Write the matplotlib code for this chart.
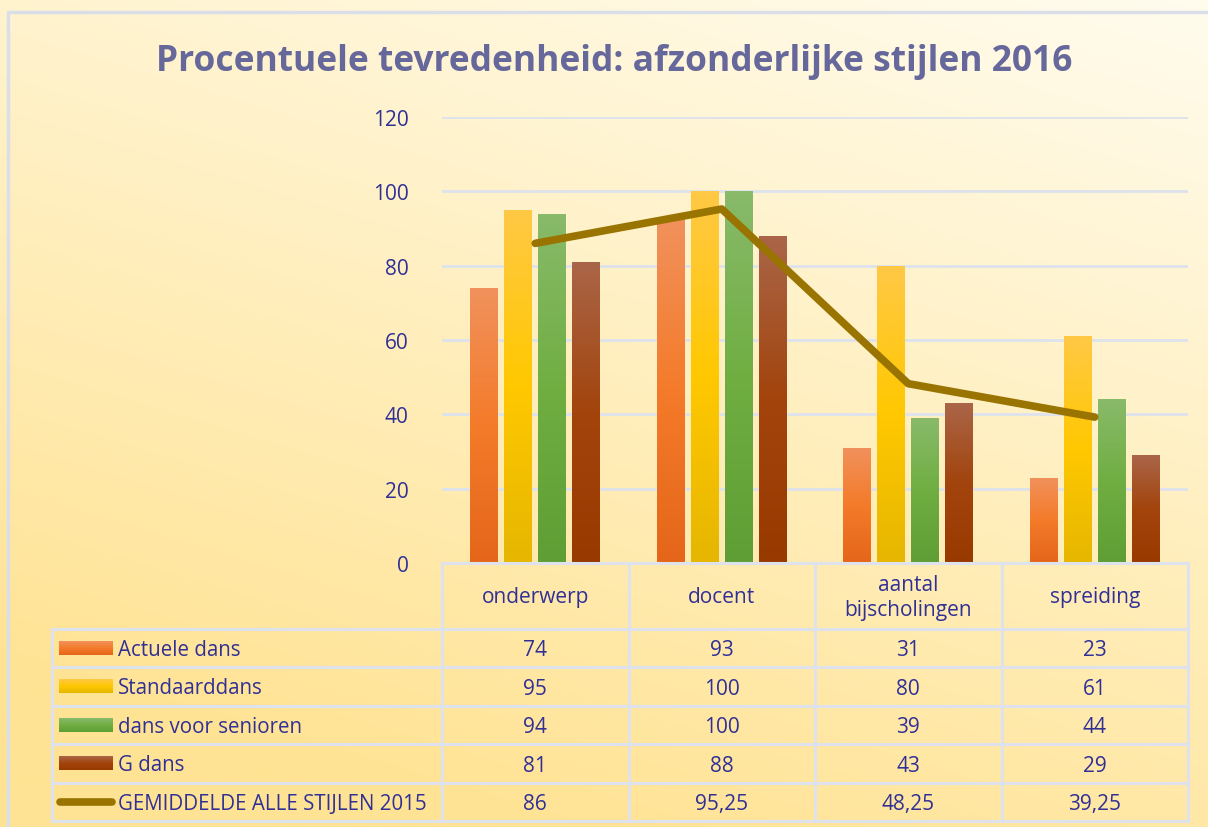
import numpy as np
import matplotlib
matplotlib.use("Agg")
import matplotlib.pyplot as plt
from matplotlib.colors import LinearSegmentedColormap

categories = ["onderwerp", "docent", "aantal\nbijscholingen", "spreiding"]
series_names = ["Actuele dans", "Standaarddans", "dans voor senioren", "G dans"]
actuele = [74, 93, 31, 23]
standaard = [95, 100, 80, 61]
senioren = [94, 100, 39, 44]
g_dans = [81, 88, 43, 29]
line_name = "GEMIDDELDE ALLE STIJLEN 2015"
gemiddelde = [86, 95.25, 48.25, 39.25]
yticks = [0, 20, 40, 60, 80, 100, 120]

# top, middle, bottom colour of each bar gradient
bar_grads = [
    ("#F1915C", "#F47B2A", "#E5661A"),
    ("#FFC845", "#FFC800", "#E6B600"),
    ("#88BA6A", "#70AE42", "#5E9E34"),
    ("#AA6548", "#A2440C", "#983A00"),
]
line_color = "#9A7400"
text_color = "#303096"
grid_color = "#DDE2EC"

W, H = 1208, 828
fig = plt.figure(figsize=(W / 100, H / 100), dpi=100)

# background gradient
bg = fig.add_axes([0, 0, 1, 1], zorder=-10)
yy, xx = np.mgrid[0:1:200j, 0:1:200j]
t = np.clip(0.8 * yy + 0.35 * (1 - xx), 0, 1)  # 0 at top right, 1 at bottom left
c_top = np.array([255, 252, 238]) / 255
c_bot = np.array([255, 227, 148]) / 255
img = c_top[None, None, :] * (1 - t[..., None]) + c_bot[None, None, :] * t[..., None]
bg.imshow(img, extent=[0, W, H, 0], aspect="auto", interpolation="bilinear")
bg.set_xlim(0, W)
bg.set_ylim(H, 0)
bg.axis("off")
# outer border (top and left visible)
bg.plot([8, 8, W], [H, 13, 13], color="#DADEE8", lw=2.5, solid_capstyle="butt")

# main chart axes
x0, x1, ytop, ybot = 442, 1188, 118, 564
ax = fig.add_axes([x0 / W, 1 - ybot / H, (x1 - x0) / W, (ybot - ytop) / H])
ax.patch.set_alpha(0)
ax.set_xlim(-0.5, len(categories) - 0.5)
ax.set_ylim(0, 120)
ax.set_yticks(yticks)
ax.yaxis.grid(True, color=grid_color, lw=2)
ax.set_axisbelow(True)
for s in ax.spines.values():
    s.set_visible(False)
ax.set_xticks([])
ax.tick_params(axis="y", length=0, pad=24, labelsize=15, labelcolor=text_color)
for lab in ax.get_yticklabels():
    lab.set_fontfamily("Open Sans")

x = np.arange(len(categories))
bw = 0.15
step = 0.183
all_series = [actuele, standaard, senioren, g_dans]
for i, (vals, grad) in enumerate(zip(all_series, bar_grads)):
    cmap = LinearSegmentedColormap.from_list("g%d" % i, [grad[2], grad[1], grad[0]])
    bars = ax.bar(x + (i - 1.5) * step, vals, width=bw, color=grad[1], zorder=2)
    for b in bars:
        bx, by = b.get_x(), b.get_y()
        bh = b.get_height()
        grad_img = np.linspace(0, 1, 100)[:, None]
        im = ax.imshow(grad_img, cmap=cmap, origin="lower", aspect="auto",
                       extent=[bx, bx + b.get_width(), by, by + bh], zorder=3,
                       interpolation="bilinear")
        im.set_clip_path(b)
ax.set_xlim(-0.5, len(categories) - 0.5)
ax.set_ylim(0, 120)
ax.plot(x, gemiddelde, color=line_color, lw=5.5, zorder=5, solid_capstyle="round",
        solid_joinstyle="round")

# data table
tab = fig.add_axes([0, 0, 1, 1], zorder=5)
tab.set_xlim(0, W)
tab.set_ylim(H, 0)
tab.axis("off")
col_edges = np.linspace(x0, x1, len(categories) + 1)
row_edges = [564, 630, 668, 707, 745, 784, 822]
lab_left = 52
lw_t = 2.2
# vertical lines
for cx in col_edges:
    tab.plot([cx, cx], [row_edges[0], row_edges[-1]], color=grid_color, lw=lw_t)
tab.plot([lab_left, lab_left], [row_edges[1], row_edges[-1]], color=grid_color, lw=lw_t)
# horizontal lines
tab.plot([x0, x1], [row_edges[0], row_edges[0]], color=grid_color, lw=lw_t)
for ry in row_edges[1:]:
    tab.plot([lab_left, x1], [ry, ry], color=grid_color, lw=lw_t)

font = dict(family="Open Sans", color=text_color)
for j, cat in enumerate(categories):
    cx = (col_edges[j] + col_edges[j + 1]) / 2
    tab.text(cx, (row_edges[0] + row_edges[1]) / 2 + 1, cat, ha="center", va="center",
             fontsize=15, linespacing=1.25, **font)

def fmt(v):
    return ("%g" % v).replace(".", ",")

rows = all_series + [gemiddelde]
names = series_names + [line_name]
for r, (name, vals) in enumerate(zip(names, rows)):
    ymid = (row_edges[r + 1] + row_edges[r + 2]) / 2
    if r < len(bar_grads):
        grad = bar_grads[r]
        cmap = LinearSegmentedColormap.from_list("s%d" % r, [grad[0], grad[1], grad[2]])
        tab.imshow(np.linspace(0, 1, 50)[:, None], cmap=cmap, aspect="auto", origin="upper",
                   extent=[59, 113, ymid + 7, ymid - 7], zorder=6, interpolation="bilinear")
    else:
        tab.plot([60, 112], [ymid, ymid], color=line_color, lw=5.5, solid_capstyle="round")
    tab.text(118, ymid + 1.5, name, ha="left", va="center", fontsize=14.8, **font)
    for j, v in enumerate(vals):
        cx = (col_edges[j] + col_edges[j + 1]) / 2
        tab.text(cx, ymid + 2, fmt(v), ha="center", va="center", fontsize=15, **font)
tab.set_xlim(0, W)
tab.set_ylim(H, 0)

fig.text(614 / W, 1 - 62 / H, "Procentuele tevredenheid: afzonderlijke stijlen 2016",
         ha="center", va="center", fontsize=25.5, fontweight="bold", color="#66679A",
         family="Open Sans")

fig.savefig("out.png", dpi=100)
